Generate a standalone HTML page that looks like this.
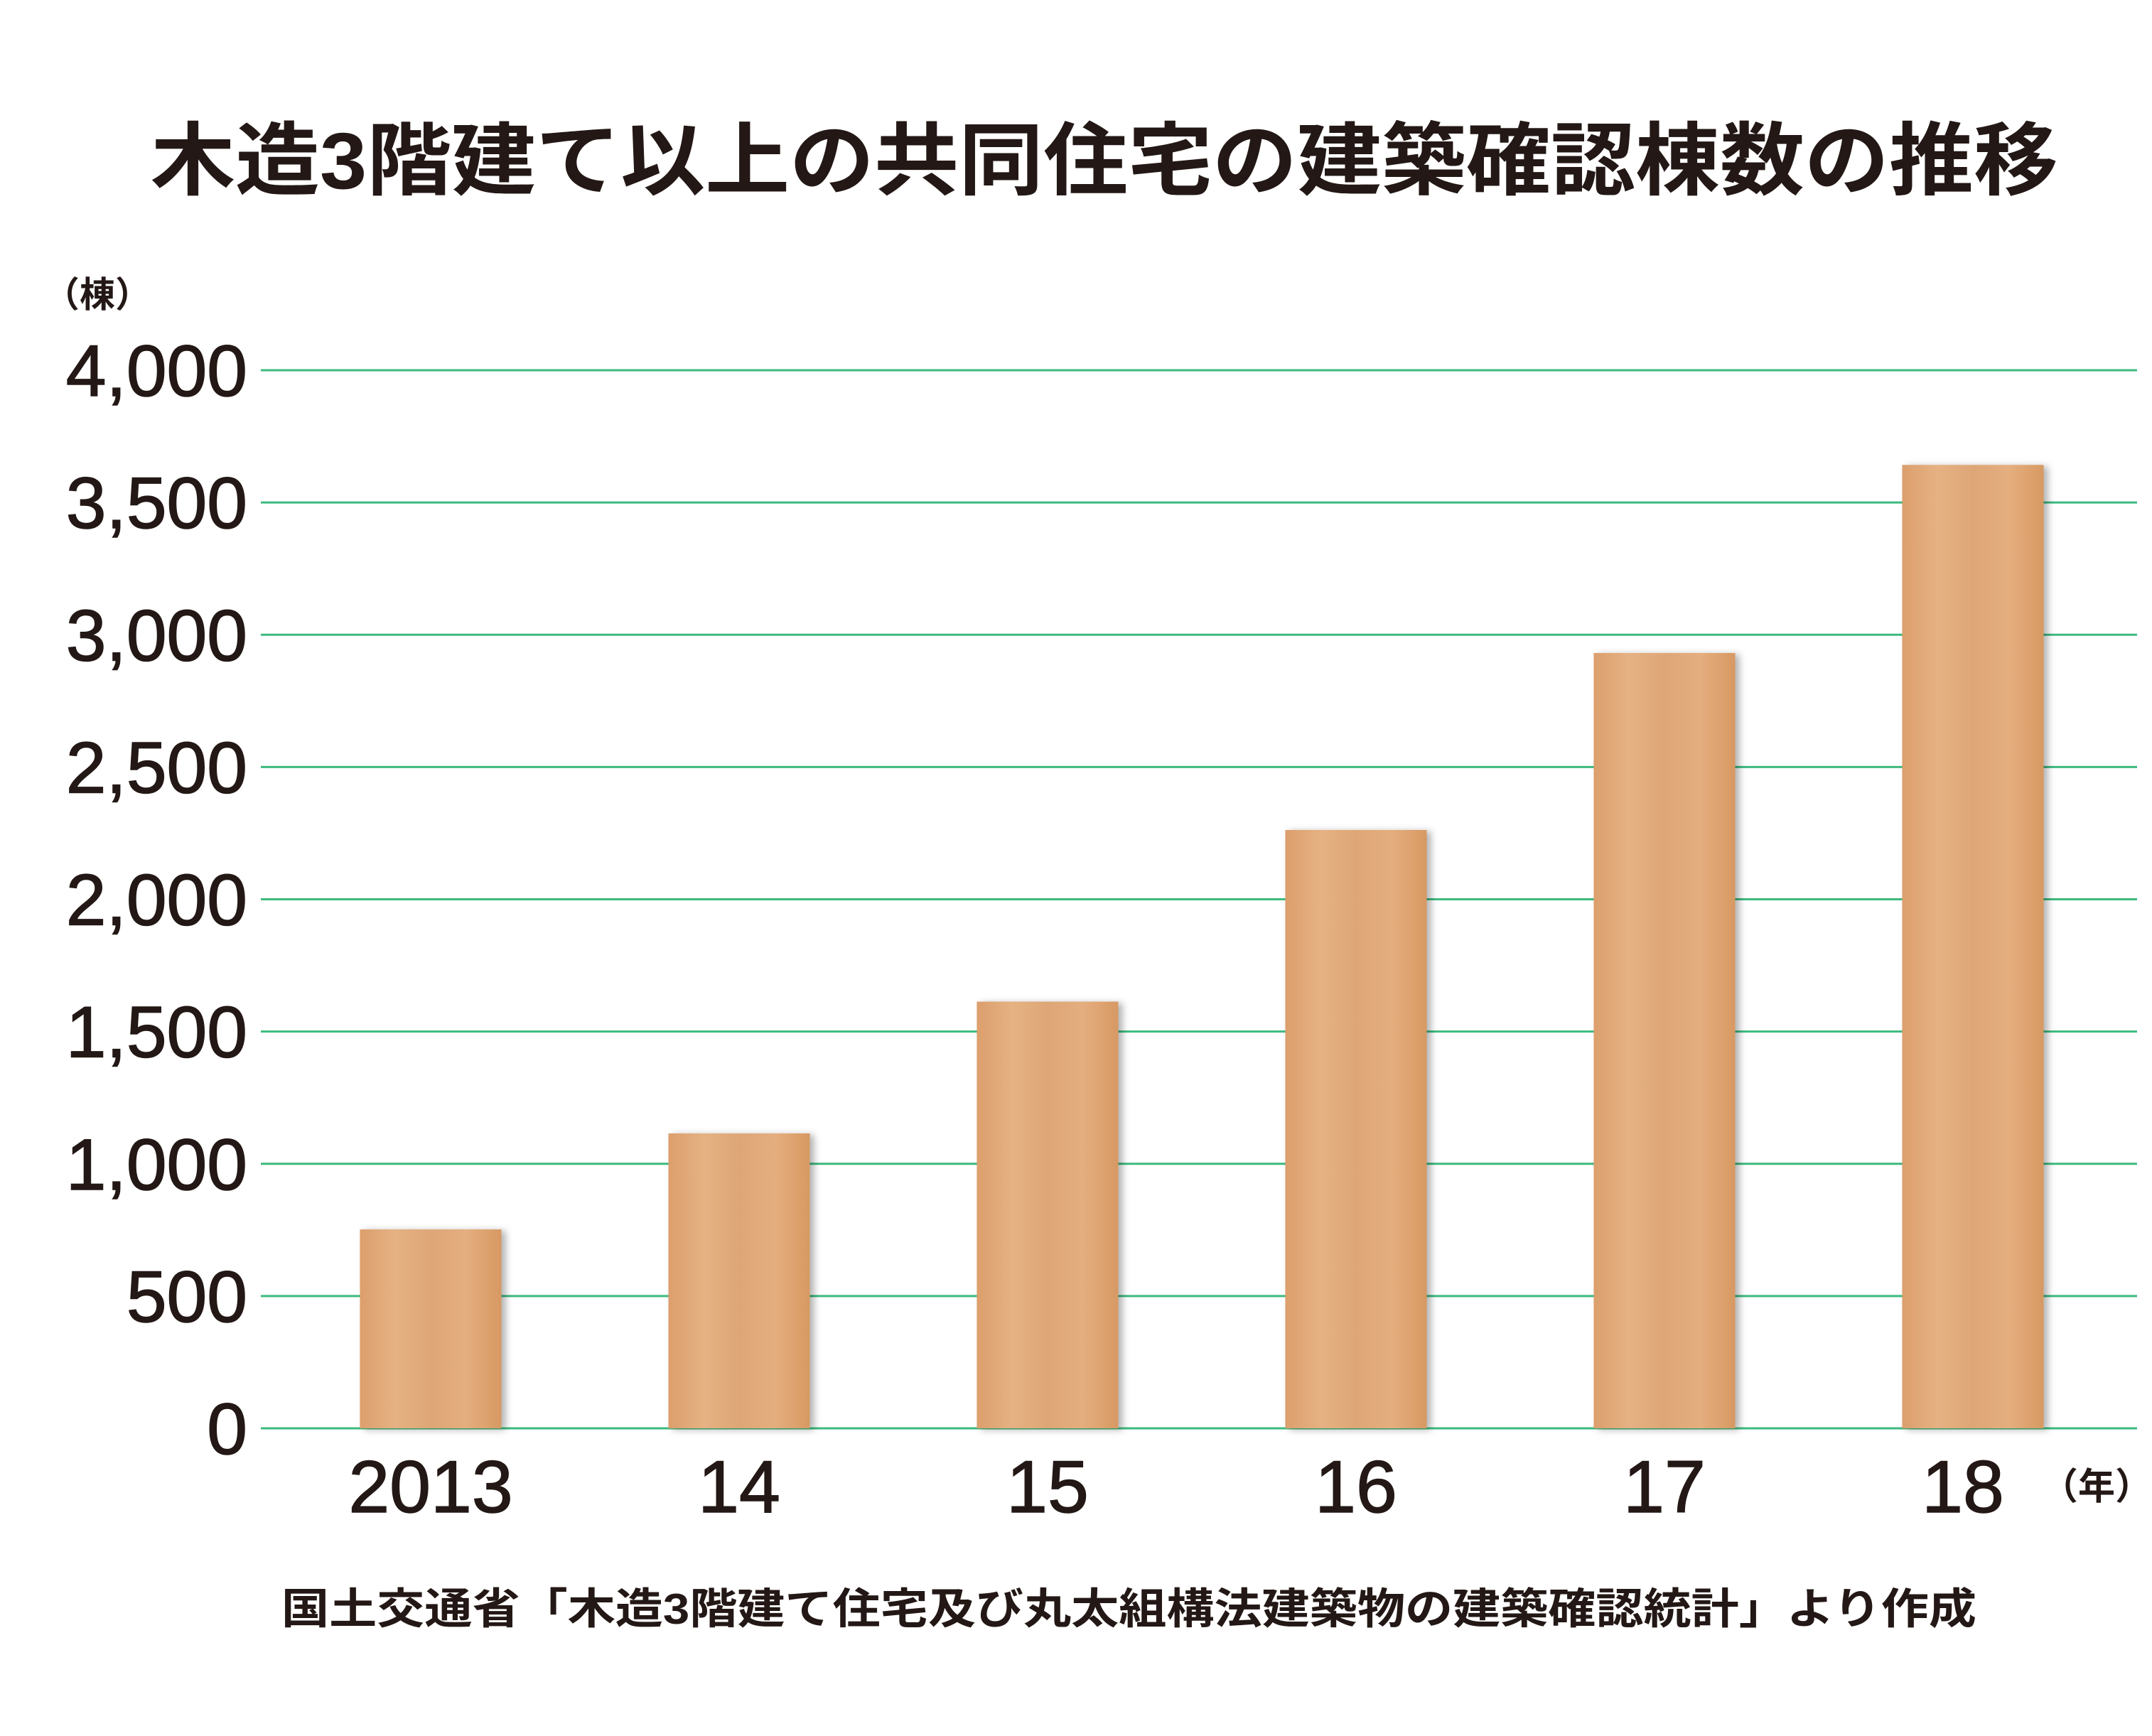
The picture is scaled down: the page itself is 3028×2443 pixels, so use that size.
<!DOCTYPE html>
<html><head><meta charset="utf-8">
<style>
html,body{margin:0;padding:0;background:#fff;}
svg{display:block;}
text{font-family:"Liberation Sans","Noto Sans CJK JP",sans-serif;fill:#231815;}
</style></head>
<body>
<svg id="chart" width="3028" height="2443" viewBox="0 0 3028 2443" xmlns="http://www.w3.org/2000/svg">
<defs>
<linearGradient id="wood" x1="0" x2="1" y1="0" y2="0">
<stop offset="0" stop-color="#dc9e6c"/>
<stop offset="0.25" stop-color="#e6b283"/>
<stop offset="0.5" stop-color="#dea676"/>
<stop offset="0.75" stop-color="#e5ae7e"/>
<stop offset="1" stop-color="#d79963"/>
</linearGradient>
<filter id="sh" x="-10%" y="-5%" width="130%" height="110%">
<feDropShadow dx="6" dy="2" stdDeviation="5" flood-color="#000" flood-opacity="0.3"/>
</filter>
</defs>
<text x="212" y="265" textLength="2684" lengthAdjust="spacingAndGlyphs" font-size="112" font-weight="bold">木造3階建て以上の共同住宅の建築確認棟数の推移</text>
<text x="62" y="432" font-size="50" font-weight="bold">（棟）</text>
<g id="grid"></g>
<g id="ylabels"></g>
<g id="bars"></g>
<g id="xlabels"></g>
<text x="2872" y="2110" font-size="52" font-weight="bold">（年）</text>
<text x="396" y="2285" textLength="2385" lengthAdjust="spacingAndGlyphs" font-size="60" font-weight="bold">国土交通省「木造3階建て住宅及び丸太組構法建築物の建築確認統計」より作成</text>
</svg>
<script>
const categories = ["2013","14","15","16","17","18"];
const values = [752, 1115, 1613, 2262, 2931, 3642];
const yTicks = [0,500,1000,1500,2000,2500,3000,3500,4000];
const yTickLabels = ["0","500","1,000","1,500","2,000","2,500","3,000","3,500","4,000"];
const NS="http://www.w3.org/2000/svg";
const y0=2010, y1=521, yMax=4000, gx0=367, gx1=3007;
const yScale=v=>y0-(v/yMax)*(y0-y1);
const step=434, firstC=606, bw=199;
const xScale=i=>firstC+i*step;
const grid=document.getElementById('grid'), yl=document.getElementById('ylabels'), bars=document.getElementById('bars'), xl=document.getElementById('xlabels');
yTicks.forEach((t,i)=>{
  const l=document.createElementNS(NS,'line');
  
  
  l.setAttribute('x1',gx0);l.setAttribute('x2',gx1);
  l.setAttribute('y1',yScale(t));l.setAttribute('y2',yScale(t));
  l.setAttribute('stroke','#3dba7e');l.setAttribute('stroke-width','3');
  grid.appendChild(l);
  const tx=document.createElementNS(NS,'text');
  
  
  tx.setAttribute('x',348);tx.setAttribute('y',yScale(t)+36);
  tx.setAttribute('text-anchor','end');tx.setAttribute('font-size','102');
  tx.setAttribute('stroke','#231815');tx.setAttribute('stroke-width','1.5');
  tx.textContent=yTickLabels[i];
  yl.appendChild(tx);
});
categories.forEach((c,i)=>{
  const r=document.createElementNS(NS,'rect');
  
  
  r.setAttribute('x',xScale(i)-bw/2);r.setAttribute('width',bw);
  r.setAttribute('y',yScale(values[i]));r.setAttribute('height',y0-yScale(values[i]));
  r.setAttribute('fill','url(#wood)');r.setAttribute('filter','url(#sh)');
  bars.appendChild(r);
  const tx=document.createElementNS(NS,'text');
  
  
  tx.setAttribute('x',xScale(i)-(i===5?14:0));tx.setAttribute('y',2128);
  tx.setAttribute('text-anchor','middle');tx.setAttribute('font-size','104');
  tx.setAttribute('stroke','#231815');tx.setAttribute('stroke-width','1.5');
  tx.textContent=c;
  xl.appendChild(tx);
});
</script>
</body></html>
